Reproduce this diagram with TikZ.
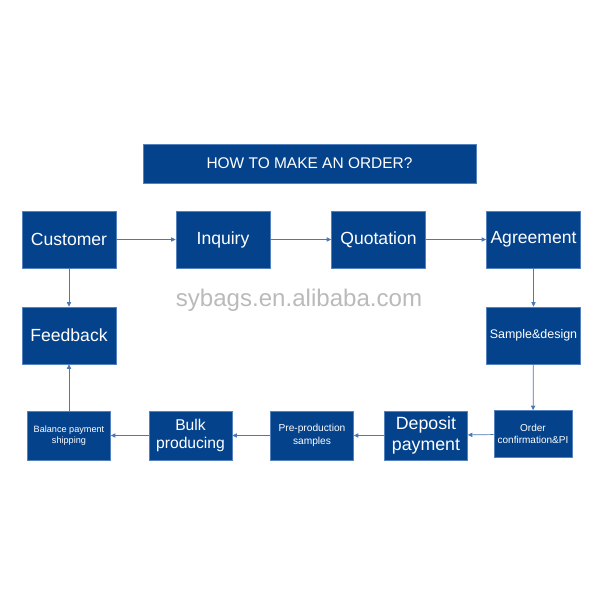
\documentclass[tikz,border=0pt]{standalone}
\usepackage{fontspec}
\setmainfont{Liberation Sans}
\usetikzlibrary{arrows.meta}
\definecolor{boxblue}{RGB}{4,66,140}
\definecolor{rimblue}{RGB}{84,130,190}
\definecolor{lineblue}{RGB}{74,120,180}
\begin{document}
\begin{tikzpicture}[
    stage/.style={
        rectangle,
        minimum width=1.88cm,
        minimum height=1.14cm,
        draw=rimblue,
        line width=0.3pt,
        fill=boxblue,
        text=white,
        inner sep=1pt,
        align=center
    },
    lowstage/.style={
        stage,
        minimum width=1.66cm,
        minimum height=0.98cm
    },
    flow/.style={
        draw=lineblue,
        line width=0.4pt,
        -{Triangle[length=2.6pt,width=2.4pt]}
    }
]
\useasboundingbox (0,0) rectangle (12,-12);

\node[stage, minimum width=6.66cm, minimum height=0.78cm,
      font=\fontsize{8.8}{10}\selectfont] (title) at (6.19,-3.27) {HOW TO MAKE AN ORDER?};

\node[text=black!27, font=\fontsize{13.7}{16}\selectfont] (mark) at (5.98,-6.0) {sybags.en.alibaba.com};

\node[stage, font=\fontsize{10}{12}\selectfont] (customer) at (1.38,-4.79) {Customer};
\node[stage, font=\fontsize{10}{12}\selectfont] (inquiry) at (4.46,-4.79) {Inquiry};
\node[stage, font=\fontsize{10}{12}\selectfont] (quotation) at (7.57,-4.79) {Quotation};
\node[stage, font=\fontsize{10}{12}\selectfont] (agreement) at (10.67,-4.79) {Agreement};
\node[stage, font=\fontsize{10}{12}\selectfont] (feedback) at (1.38,-6.71) {Feedback};
\node[stage, font=\fontsize{7.1}{9}\selectfont] (sample) at (10.67,-6.71) {Sample\&design};

\node[lowstage, font=\fontsize{5.2}{6.4}\selectfont] (balance) at (1.38,-8.71) {Balance payment\\shipping};
\node[lowstage, font=\fontsize{8.9}{10.6}\selectfont] (bulk) at (3.81,-8.71) {Bulk\\producing};
\node[lowstage, font=\fontsize{5.8}{7}\selectfont] (preprod) at (6.24,-8.71) {Pre-production\\samples};
\node[lowstage, font=\fontsize{10.1}{12}\selectfont] (deposit) at (8.52,-8.71) {Deposit\\payment};
\node[lowstage, minimum width=1.56cm, minimum height=0.94cm,
      font=\fontsize{5.7}{7}\selectfont] (order) at (10.66,-8.68) {Order\\confirmation\&PI};

\draw[flow] (customer) -- (inquiry);
\draw[flow] (inquiry) -- (quotation);
\draw[flow] (quotation) -- (agreement);
\draw[flow] (agreement) -- (sample);
\draw[flow] (sample) -- (order);
\draw[flow] (order) -- (deposit);
\draw[flow] (deposit) -- (preprod);
\draw[flow] (preprod) -- (bulk);
\draw[flow] (bulk) -- (balance);
\draw[flow] (balance) -- (feedback);
\draw[flow] (customer) -- (feedback);

\end{tikzpicture}
\end{document}
